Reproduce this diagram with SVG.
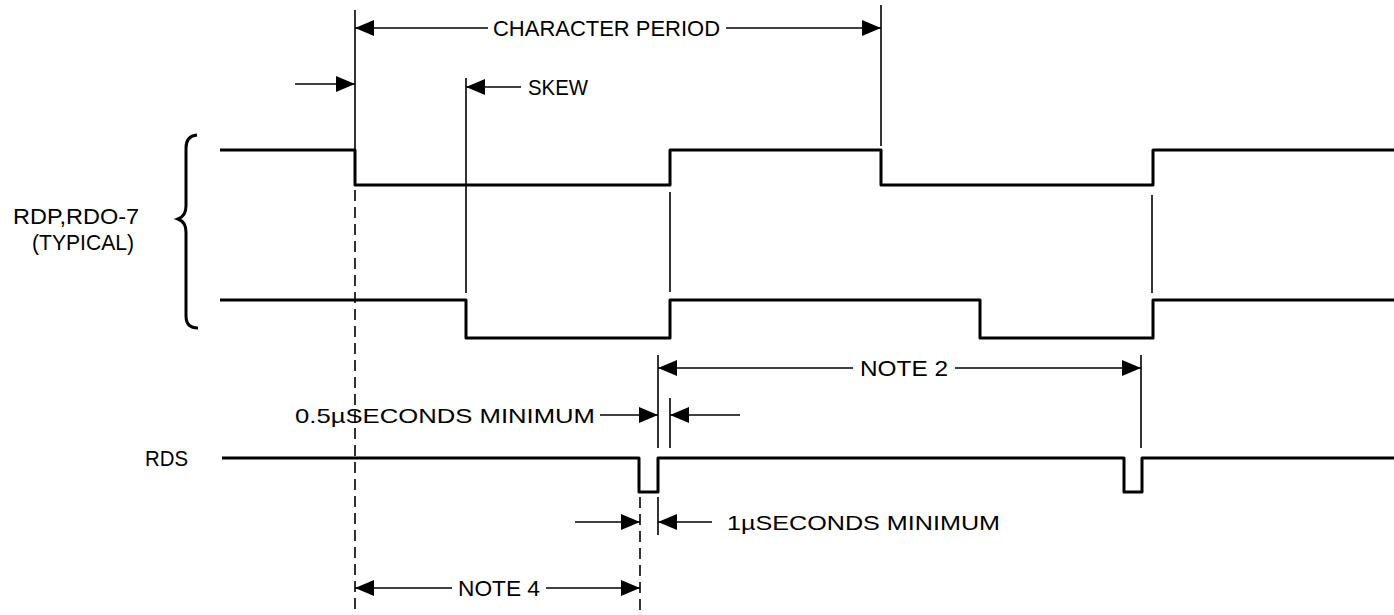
<svg xmlns="http://www.w3.org/2000/svg" width="1394" height="615" viewBox="0 0 1394 615">
<defs>
<marker id="ah" viewBox="0 0 19 16" refX="19" refY="8" markerWidth="19" markerHeight="16" markerUnits="userSpaceOnUse" orient="auto">
<path d="M0,0 L19,8 L0,16 z" fill="#000"/>
</marker>
</defs>
<style>
.wave{fill:none;stroke:#000;stroke-width:3;stroke-linejoin:round}
.ext{fill:none;stroke:#000;stroke-width:1.6}
.dash{fill:none;stroke:#000;stroke-width:1.6;stroke-dasharray:11 6}
.dim{fill:none;stroke:#000;stroke-width:1.6;marker-end:url(#ah)}
.t{font-family:"Liberation Sans","DejaVu Sans",sans-serif;font-size:21px;fill:#000}
.tl{font-family:"Liberation Sans","DejaVu Sans",sans-serif;font-size:22px;fill:#000}
</style>
<rect width="1394" height="615" fill="#fff"/>

<g id="label-rdp">
<text class="tl" x="13" y="224" textLength="126" lengthAdjust="spacingAndGlyphs">RDP,RDO-7</text>
<text class="tl" x="32" y="250" textLength="102" lengthAdjust="spacingAndGlyphs">(TYPICAL)</text>
<path d="M197,135 Q186,136 186,148 L186,206 Q186,216 178,219 Q186,222 186,232 L186,316 Q186,328 198,328" fill="none" stroke="#000" stroke-width="3"/>
</g>

<g id="label-rds">
<text class="tl" x="145" y="466" textLength="43" lengthAdjust="spacingAndGlyphs">RDS</text>
</g>

<g id="wave-rdp-upper">
<path class="wave" d="M220,150 L355,150 L355,185 L670,185 L670,150 L881,150 L881,185 L1153,185 L1153,150 L1394,150"/>
</g>

<g id="wave-rdp-lower">
<path class="wave" d="M220,300 L466,300 L466,338 L670,338 L670,300 L980,300 L980,338 L1153,338 L1153,300 L1394,300"/>
</g>

<g id="wave-rds">
<path class="wave" d="M222,458 L639,458 L639,492 L658,492 L658,458 L1124,458 L1124,492 L1142,492 L1142,458 L1394,458"/>
</g>

<g id="connectors">
<line class="ext" x1="355" y1="10" x2="355" y2="150"/>
<line class="dash" x1="355" y1="190" x2="355" y2="615"/>
<line class="ext" x1="881" y1="5" x2="881" y2="146"/>
<line class="ext" x1="466" y1="78" x2="466" y2="293"/>
<line class="ext" x1="670" y1="192" x2="670" y2="292"/>
<line class="ext" x1="1152" y1="195" x2="1152" y2="293"/>
<line class="ext" x1="658" y1="355" x2="658" y2="448"/>
<line class="ext" x1="670" y1="398" x2="670" y2="448"/>
<line class="ext" x1="1141" y1="355" x2="1141" y2="448"/>
<line class="ext" x1="658" y1="497" x2="658" y2="535"/>
<line class="dash" x1="640" y1="497" x2="640" y2="615"/>

<line class="dim" x1="488" y1="28" x2="355" y2="28"/>
<line class="dim" x1="726" y1="28" x2="881" y2="28"/>
<line class="dim" x1="295" y1="84" x2="355" y2="84"/>
<line class="dim" x1="521" y1="87" x2="466" y2="87"/>
<line class="dim" x1="853" y1="368" x2="658" y2="368"/>
<line class="dim" x1="955" y1="368" x2="1141" y2="368"/>
<line class="dim" x1="600" y1="415" x2="658" y2="415"/>
<line class="dim" x1="740" y1="415" x2="670" y2="415"/>
<line class="dim" x1="575" y1="522" x2="640" y2="522"/>
<line class="dim" x1="712" y1="522" x2="658" y2="522"/>
<line class="dim" x1="452" y1="588" x2="355" y2="588"/>
<line class="dim" x1="546" y1="588" x2="640" y2="588"/>
</g>

<g id="labels">
<text class="tl" x="493" y="36" textLength="227" lengthAdjust="spacingAndGlyphs">CHARACTER PERIOD</text>
<text class="tl" x="528" y="95" textLength="60" lengthAdjust="spacingAndGlyphs">SKEW</text>
<text class="tl" x="860" y="376" textLength="88" lengthAdjust="spacingAndGlyphs">NOTE 2</text>
<text class="t" x="295" y="423" textLength="300" lengthAdjust="spacingAndGlyphs">0.5µSECONDS MINIMUM</text>
<text class="t" x="727" y="530" textLength="273" lengthAdjust="spacingAndGlyphs">1µSECONDS MINIMUM</text>
<text class="tl" x="458" y="596" textLength="82" lengthAdjust="spacingAndGlyphs">NOTE 4</text>
</g>
</svg>
